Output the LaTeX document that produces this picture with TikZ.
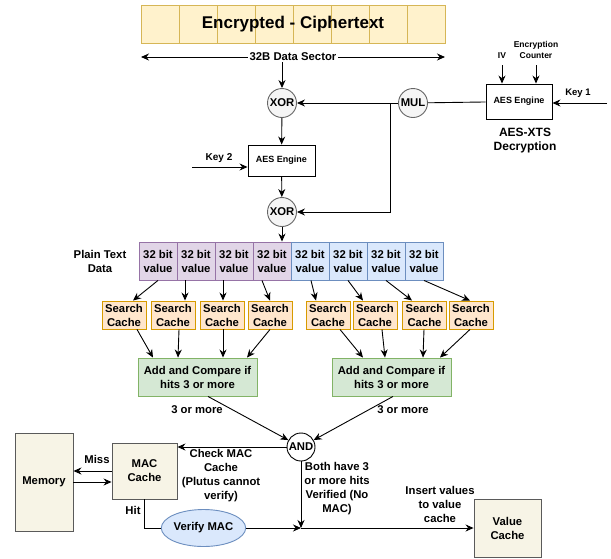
\documentclass[tikz,border=0pt]{standalone}
\usepackage{fontspec}
\setmainfont{Liberation Sans}
\usetikzlibrary{arrows.meta,calc,shapes.geometric}
\definecolor{cipF}{HTML}{FFF2CC}\definecolor{cipD}{HTML}{D6B656}
\definecolor{purF}{HTML}{E1D5E7}\definecolor{purD}{HTML}{9673A6}
\definecolor{bluF}{HTML}{DAE8FC}\definecolor{bluD}{HTML}{6C8EBF}
\definecolor{oraF}{HTML}{FFE6CC}\definecolor{oraD}{HTML}{D79B00}
\definecolor{grnF}{HTML}{D5E8D4}\definecolor{grnD}{HTML}{82B366}
\definecolor{begF}{HTML}{F7F4E6}\definecolor{begD}{HTML}{5A5A5A}
\definecolor{cirF}{HTML}{F5F5F5}\definecolor{cirD}{HTML}{666666}
\tikzset{
  f11/.style={font=\bfseries\fontsize{11.3}{14}\selectfont},
  f9/.style={font=\bfseries\fontsize{9}{11}\selectfont},
  lbl/.style={f11, align=center, inner sep=0pt},
  cipcell/.style={draw=cipD, fill=cipF, line width=0.9pt, minimum width=38pt, minimum height=38pt, inner sep=0pt},
  pcell/.style={draw=purD, fill=purF, line width=0.9pt, minimum width=38pt, minimum height=38pt, inner sep=0pt, f11, align=center},
  bcell/.style={draw=bluD, fill=bluF, line width=0.9pt, minimum width=38pt, minimum height=38pt, inner sep=0pt, f11, align=center},
  scache/.style={draw=oraD, fill=oraF, line width=0.9pt, minimum width=44pt, minimum height=28pt, inner sep=0pt, f11, align=center},
  addbox/.style={draw=grnD, fill=grnF, line width=0.9pt, minimum width=119pt, minimum height=38pt, inner sep=0pt, f11, align=center},
  begbox/.style={draw=begD, fill=begF, line width=0.9pt, inner sep=0pt, f11, align=center},
  aesbox/.style={draw=black, fill=white, line width=0.9pt, inner sep=0pt, f9, align=center},
  circ/.style={circle, draw=cirD, fill=cirF, line width=0.9pt, minimum size=29pt, inner sep=0pt, f11},
  arr/.style={-{Stealth[length=8pt,width=7pt]}, line width=0.9pt},
  ln/.style={line width=0.9pt},
}
\begin{document}
\begin{tikzpicture}[x=1pt,y=-1pt]
\useasboundingbox (0,0) rectangle (611,558);
% ciphertext bar
\foreach \i in {0,...,7} {
  \node[cipcell] (c\i) at ({160+38*\i},24) {};
}
\node[font=\bfseries\fontsize{17}{20}\selectfont, inner sep=0pt] (ctext) at (293,24) {Encrypted - Ciphertext};
% data sector arrow
\coordinate (sl) at (141,57);
\coordinate (sr) at (445,57);
\draw[{Stealth[length=8pt,width=7pt]}-{Stealth[length=8pt,width=7pt]}, line width=0.9pt] (sl) -- (sr)
  node[midway, fill=white, inner xsep=2pt, inner ysep=1pt, f11] (sector) {32B Data Sector};
% XOR / MUL / AES
\node[circ] (xor1) at (282,103) {XOR};
\node[circ] (mul) at (413,103) {MUL};
\node[aesbox, minimum width=66pt, minimum height=35pt] (aes1) at (519,101.5) {AES Engine};
\draw[arr] (xor1 |- sector.south) -- (xor1);
\draw[ln] (aes1) -- (mul);
\draw[arr] (mul) -- (xor1);
\coordinate (k1) at (607,103);
\draw[arr] (k1) -- (k1 -| aes1.east);
\node[font=\bfseries\fontsize{9.5}{11}\selectfont, inner sep=0pt] (k1l) at (578,93) {Key 1};
\coordinate (iv) at (502,65);
\draw[arr] (iv) -- (iv |- aes1.north);
\node[font=\bfseries\fontsize{8.5}{10.5}\selectfont, inner sep=0pt] (ivl) at (502,56) {IV};
\coordinate (ec) at (536,65);
\draw[arr] (ec) -- (ec |- aes1.north);
\node[font=\bfseries\fontsize{8.5}{10.5}\selectfont, inner sep=0pt, align=center] (ecl) at (536,50) {Encryption\\Counter};
\node[font=\bfseries\fontsize{12}{14}\selectfont, inner sep=0pt, align=center] (xts) at (525,141) {AES-XTS\\Decryption};
% second AES
\node[aesbox, minimum width=67pt, minimum height=31pt] (aes2) at (281.5,160.5) {AES Engine};
\coordinate (k2) at (192,167);
\draw[arr] (k2) -- (k2 -| aes2.west);
\node[font=\bfseries\fontsize{10}{12}\selectfont, inner sep=0pt] (k2l) at (219,158) {Key 2};
\node[circ] (xor2) at (282,212) {XOR};
\draw[arr] (xor1) -- (aes2);
\draw[arr] (aes2) -- (xor2);
\coordinate (br) at (390,103);
\draw[arr] (br) |- (xor2);
% plain text row
\foreach \i in {1,...,4} {
  \node[pcell] (p\i) at ({120+38*\i},261) {32 bit\\value};
}
\foreach \i in {5,...,8} {
  \node[bcell] (p\i) at ({120+38*\i},261) {32 bit\\value};
}
\draw[arr] (xor2) -- (xor2 |- p4.north);
\node[lbl] (ptl) at (100,261) {Plain Text\\Data};
% search caches
\node[scache] (s1) at (124,315) {Search\\Cache};
\node[scache] (s2) at (173,315) {Search\\Cache};
\node[scache] (s3) at (222,315) {Search\\Cache};
\node[scache] (s4) at (270,315) {Search\\Cache};
\node[scache] (s5) at (328,315) {Search\\Cache};
\node[scache] (s6) at (375,315) {Search\\Cache};
\node[scache] (s7) at (424.5,315) {Search\\Cache};
\node[scache] (s8) at (471,315) {Search\\Cache};
\draw[arr] ([xshift=0pt]p1.south) -- ([xshift=9pt]s1.north);
\draw[arr] ([xshift=-11pt]p2.south) -- ([xshift=12pt]s2.north);
\draw[arr] ([xshift=-11pt]p3.south) -- ([xshift=1pt]s3.north);
\draw[arr] ([xshift=-10pt]p4.south) -- ([xshift=0pt]s4.north);
\draw[arr] ([xshift=1pt]p5.south) -- ([xshift=-12pt]s5.north);
\draw[arr] ([xshift=0pt]p6.south) -- ([xshift=-12pt]s6.north);
\draw[arr] ([xshift=0pt]p7.south) -- ([xshift=-12.5pt]s7.north);
\draw[arr] ([xshift=0pt]p8.south) -- ([xshift=-1pt]s8.north);
% add and compare
\node[addbox] (a1) at (197.5,377) {Add and Compare if\\hits 3 or more};
\node[addbox] (a2) at (391.5,377) {Add and Compare if\\hits 3 or more};
\draw[arr] ([xshift=13pt]s1.south) -- ([xshift=-44.5pt]a1.north);
\draw[arr] ([xshift=6pt]s2.south) -- ([xshift=-19.5pt]a1.north);
\draw[arr] ([xshift=1pt]s3.south) -- ([xshift=25.5pt]a1.north);
\draw[arr] ([xshift=0pt]s4.south) -- ([xshift=49.5pt]a1.north);
\draw[arr] ([xshift=12pt]s5.south) -- ([xshift=-28.5pt]a2.north);
\draw[arr] ([xshift=7pt]s6.south) -- ([xshift=-6.5pt]a2.north);
\draw[arr] ([xshift=-0.5pt]s7.south) -- ([xshift=31.5pt]a2.north);
\draw[arr] ([xshift=-1pt]s8.south) -- ([xshift=48.5pt]a2.north);
\node[lbl] (m1l) at (197,410) {3 or more};
\node[lbl] (m2l) at (403,410) {3 or more};
% AND
\node[circle, draw=black, fill=white, line width=0.9pt, minimum size=28pt, inner sep=0pt, f11] (and) at (301,447) {AND};
\draw[arr] ([xshift=10.5pt]a1.south) -- (and);
\draw[arr] ([xshift=1.5pt]a2.south) -- (and);
% MAC cache and memory
\node[begbox, minimum width=65pt, minimum height=56pt] (mac) at (144.5,471) {MAC\\Cache};
\node[begbox, minimum width=58pt, minimum height=98pt] (mem) at (44,482) {Memory};
\draw[arr] (and) -- (and -| mac.east);
\node[lbl] (chk) at (221,475.5) {Check MAC\\Cache\\(Plutus cannot\\verify)};
\draw[arr] (mac.west) -- (mac.west -| mem.east);
\coordinate (m2) at ([yshift=-11pt]mac.west);
\draw[arr] (m2 -| mem.east) -- (m2);
\node[lbl] (miss) at (97,459) {Miss};
% verify MAC
\node[ellipse, draw=bluD, fill=bluF, line width=0.9pt, minimum width=67pt, minimum height=37pt, inner sep=0pt, f11] (vm) at (203.5,528) {Verify MAC};
\draw[ln] (mac.south) |- (vm.west);
\node[lbl] (hit) at (133,510) {Hit};
\coordinate (j) at (and |- vm);
\draw[arr] (vm) -- (j);
\draw[arr] (and) -- (j);
\node[begbox, minimum width=67pt, minimum height=58pt] (vc) at (507.5,528) {Value\\Cache};
\draw[arr] (j) -- (j -| vc.west);
\node[lbl] (both) at (337,489) {Both have 3\\or more hits\\Verified (No\\MAC)};
\node[lbl] (ins) at (440,504.5) {Insert values\\to value\\cache};
\end{tikzpicture}
\end{document}
